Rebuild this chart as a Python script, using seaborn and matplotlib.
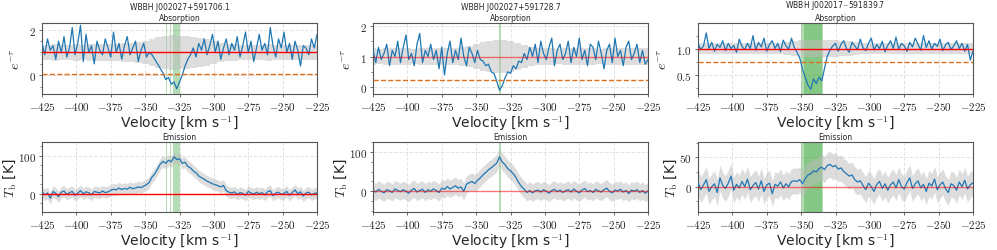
import numpy as np
import seaborn as sns
import matplotlib.pyplot as plt
from matplotlib.ticker import FuncFormatter, MultipleLocator

sns.set_style("whitegrid", {"grid.linestyle": "--", "grid.color": "#e3e3e3",
                            "axes.edgecolor": "#555555"})
plt.rcParams['font.family'] = ['DejaVu Sans']
plt.rcParams['mathtext.fontset'] = 'cm'

# channel grid (km/s) and coarse grid for the noise envelopes
vel = np.arange(-425, -224, 2)
vel_band = np.arange(-425, -224, 5)

sources = ["WBBH J002027+591706.1", "WBBH J002027+591728.7", "WBBH J002017$-$591839.7"]

# absorption spectra e^-tau
abs1 = [1.4, 0.9, 1.6, 1.1, 1.3, 0.7, 1.5, 1.0, 1.7, 0.8,
        1.2, 2.1, 0.9, 1.4, 2.2, 0.6, 1.8, 1.0, 1.3, 0.5,
        1.5, 1.1, 0.9, 1.6, 1.2, 0.8, 1.9, 1.0, 1.4, 0.7,
        1.3, 1.7, 0.9, 1.2, 1.5, 0.6, 1.1, 1.4, 0.8, 1.0,
        0.9, 0.7, 0.5, 0.3, 0.1, -0.2, -0.1, -0.4, -0.3, -0.6,
        -0.3, 0.0, 0.4, 0.7, 0.9, 1.2, 0.8, 1.4, 1.1, 1.6,
        0.9, 1.3, 1.8, 1.0, 1.5, 0.7, 1.2, 1.6, 0.9, 1.4,
        1.1, 1.7, 0.8, 1.3, 1.9, 1.0, 1.5, 0.6, 1.2, 1.8,
        1.1, 1.4, 0.9, 2.1, 1.3, 0.8, 1.6, 1.2, 1.9, 1.0,
        1.4, 0.7, 1.5, 1.1, 0.4, 1.3, 1.2, 0.9, 1.6, 1.2,
        1.8]
abs2 = [1.2, 0.8, 1.3, 0.9, 1.1, 1.4, 0.7, 1.2, 1.0, 1.5,
        0.8, 1.3, 1.7, 0.9, 1.1, 0.7, 1.4, 1.75, 0.8, 1.2,
        1.0, 1.4, 0.9, 1.2, 0.6, 1.3, 0.4, 1.1, 1.5, 0.8,
        1.2, 0.9, 1.6, 1.0, 0.7, 1.3, 1.1, 0.8, 1.2, 0.9,
        0.85, 0.7, 0.75, 0.5, 0.45, 0.2, -0.1, 0.05, 0.3, 0.5,
        0.45, 0.7, 0.6, 0.85, 0.8, 1.1, 0.9, 1.3, 1.0, 1.4,
        0.8, 1.5, 1.1, 0.9, 1.3, 1.6, 0.7, 1.2, 1.4, 0.9,
        1.1, 1.5, 0.8, 1.3, 1.0, 1.6, 0.9, 1.2, 0.7, 1.4,
        1.3, 0.9, 1.5, 1.1, 0.6, 1.2, 1.4, 0.8, 1.6, 1.0,
        1.2, 0.7, 1.3, 1.5, 0.9, 1.1, 1.4, 0.8, 1.2, 0.75,
        0.9]
abs3 = [1.1, 0.98, 1.05, 1.3, 1.0, 1.12, 0.95, 1.08, 1.02, 1.15,
        0.96, 1.1, 1.0, 1.06, 0.93, 1.18, 1.04, 0.98, 1.1, 1.0,
        1.25, 0.97, 1.12, 1.03, 1.2, 0.95, 1.08, 1.15, 1.0, 1.1,
        0.94, 1.16, 1.05, 0.99, 1.2, 1.02, 0.93, 0.82, 0.6, 0.45,
        0.3, 0.22, 0.42, 0.33, 0.45, 0.38, 0.62, 0.85, 0.97, 1.05,
        1.1, 0.95, 1.08, 1.15, 1.0, 0.93, 1.12, 1.05, 0.98, 1.18,
        1.02, 0.96, 1.1, 1.2, 0.97, 1.08, 1.0, 1.14, 0.94, 1.06,
        1.15, 1.0, 1.22, 0.98, 1.1, 1.05, 0.95, 1.12, 1.03, 1.2,
        1.08, 0.97, 1.25, 1.02, 1.15, 0.99, 1.1, 1.04, 1.18, 0.96,
        1.07, 1.12, 0.98, 1.05, 1.15, 1.0, 1.1, 0.95, 1.08, 0.78,
        0.95]

# emission spectra T_b [K]
em1 = [5, -3, 2, -12, 6, 1, -8, 4, 7, -2,
       3, 6, -4, 2, 8, 0, 5, 3, -3, 6,
       4, 2, 7, 3, 5, 9, 12, 10, 15, 11,
       14, 12, 17, 13, 15, 18, 16, 20, 24, 30,
       44, 52, 65, 78, 85, 80, 88, 84, 97, 90,
       92, 80, 83, 72, 68, 60, 55, 47, 42, 38,
       33, 30, 26, 24, 21, 18, 22, 8, 4, 2,
       5, -2, 3, 1, -4, 6, 2, -1, 4, 0,
       3, -3, 5, 8, -5, 2, 4, -2, 1, 6,
       -4, 3, 10, 0, 5, -6, 2, 4, -3, 1,
       2]
em2 = [3, -2, 5, 0, -4, 4, 1, -3, 6, 2,
       -1, 4, 0, -5, 3, 7, -2, 2, 5, -3,
       4, 0, 6, 2, -3, 8, 5, 12, 6, 10,
       14, 8, 11, 0, 18, 22, 25, 20, 28, 34,
       42, 48, 55, 60, 66, 72, 88, 75, 68, 58,
       52, 45, 35, 22, 12, 5, -3, 2, -4, 1,
       3, -2, 4, 0, -5, 2, 5, -1, 3, -3,
       1, 4, -2, 6, 0, -4, 3, 7, -1, 2,
       -3, 5, 1, -2, 4, 8, 0, -4, 3, 1,
       5, -2, 2, -6, 3, 0, 4, -3, 2, -5,
       1]
em3 = [8, -5, 3, 12, -8, 0, 5, -10, 15, 2,
       -3, 6, 18, -6, 4, -2, 9, 0, 13, -5,
       2, 7, -4, 10, -8, 3, 6, -12, 4, 1,
       8, -2, 5, 0, 9, 10, 9, 12, 5, 14,
       20, 22, 27, 25, 31, 33, 29, 36, 38, 34,
       36, 30, 32, 26, 22, 18, 20, 12, 8, 10,
       2, -5, 6, 0, -8, 4, 9, -3, 5, -6,
       3, 8, -2, 12, 0, -4, 7, 15, -3, 5,
       10, -2, 4, -8, 6, 1, 13, -5, 3, 8,
       -3, -10, 5, 2, -6, 8, 0, 11, -4, 3,
       7]

# half-widths of the grey envelopes
abs_hw1 = [0.35, 0.34, 0.36, 0.35, 0.35, 0.36, 0.35, 0.37, 0.36, 0.38,
           0.37, 0.39, 0.40, 0.42, 0.45, 0.50, 0.60, 0.68, 0.72, 0.75,
           0.74, 0.72, 0.70, 0.66, 0.60, 0.50, 0.42, 0.38, 0.36, 0.35,
           0.35, 0.34, 0.35, 0.36, 0.35, 0.35, 0.34, 0.35, 0.35, 0.34,
           0.35]
abs_hw2 = [0.27, 0.26, 0.27, 0.27, 0.28, 0.27, 0.26, 0.27, 0.28, 0.27,
           0.27, 0.28, 0.29, 0.30, 0.35, 0.40, 0.47, 0.52, 0.55, 0.55,
           0.50, 0.44, 0.37, 0.31, 0.28, 0.27, 0.27, 0.26, 0.27, 0.27,
           0.28, 0.27, 0.27, 0.26, 0.27, 0.27, 0.28, 0.27, 0.27, 0.27,
           0.27]
abs_hw3 = [0.10, 0.10, 0.11, 0.10, 0.10, 0.11, 0.10, 0.10, 0.10, 0.11,
           0.10, 0.10, 0.11, 0.12, 0.15, 0.16, 0.17, 0.17, 0.17, 0.16,
           0.16, 0.15, 0.14, 0.12, 0.10, 0.10, 0.11, 0.10, 0.10, 0.10,
           0.11, 0.10, 0.10, 0.10, 0.11, 0.10, 0.10, 0.10, 0.11, 0.10,
           0.10]
em_sigma = [15, 22, 22]

abs_spec = [abs1, abs2, abs3]
em_spec = [em1, em2, em3]
abs_hw = [abs_hw1, abs_hw2, abs_hw3]
floor_lvl = [0.05, 0.23, 0.75]
green_spans = [[(-334.8, -334.2), (-332.0, -331.0), (-330.0, -325.0)],
               [(-333.2, -332.2)],
               [(-350.0, -334.0), (-348.0, -335.0)]]
abs_ylim = [(-0.83, 2.3), (-0.22, 2.09), (0.13, 1.49)]
abs_yticks = [[0, 2], [0, 1, 2], [0.5, 1.0]]
abs_ydec = [0, 0, 1]
abs_minor = [0.5, 0.5, 0.25]
em_ylim = [(-48, 136), (-53, 126), (-43, 76)]
em_yticks = [[0, 100], [0, 100], [0, 50]]
red_alpha_top = [1.0, 0.5, 1.0]
red_alpha_bot = [1.0, 0.5, 0.5]

W, H = 997, 251
fig = plt.figure(figsize=(W / 100, H / 100), dpi=100)
lefts = [42, 373, 698]
aw = 275

cm_fmt = FuncFormatter(lambda v, p: f"${v:g}$")


def style(ax, ydec=0):
    ax.set_xlim(-425, -225)
    ax.set_xticks(np.arange(-425, -224, 25))
    ax.xaxis.set_major_formatter(cm_fmt)
    ax.yaxis.set_major_formatter(FuncFormatter(lambda v, p: f"${v:.{ydec}f}$"))
    ax.tick_params(labelsize=8, length=2.5, width=0.6, color="#555555", pad=2, left=True, bottom=True)
    ax.tick_params(which="minor", length=1.5, width=0.5, color="#555555", left=True)
    ax.grid(True, lw=0.7)
    for s in ax.spines.values():
        s.set_linewidth(0.8)


for i in range(3):
    # absorption row
    ax = fig.add_axes([lefts[i] / W, (H - 95) / H, aw / W, 71 / H])
    for a, b in green_spans[i]:
        ax.axvspan(a, b, color="tab:green", alpha=0.35, lw=0, zorder=1)
    hw = np.array(abs_hw[i])
    ax.fill_between(vel_band, 1 - hw, 1 + hw, step="mid", color="#bdbdbd", alpha=0.5, lw=0, zorder=2)
    sns.lineplot(x=vel, y=abs_spec[i], ax=ax, color="#1f77b4", lw=0.9, zorder=3)
    ax.axhline(1, color="red", lw=1.0, alpha=red_alpha_top[i], zorder=4)
    ax.axhline(floor_lvl[i], color="#e0701a", lw=1.0, ls="--", zorder=4)
    ax.set_ylim(*abs_ylim[i])
    ax.set_yticks(abs_yticks[i])
    ax.yaxis.set_minor_locator(MultipleLocator(abs_minor[i]))
    style(ax, abs_ydec[i])
    ax.set_title(sources[i] + "\nAbsorption", fontsize=5.5, pad=2, linespacing=1.3)
    ax.set_xlabel("Velocity [km s$^{-1}$]", fontsize=10, labelpad=1)
    ax.set_ylabel(r"$e^{-\tau}$", fontsize=10, labelpad=4)

    # emission row
    ax = fig.add_axes([lefts[i] / W, (H - 213) / H, aw / W, 70 / H])
    for a, b in green_spans[i]:
        ax.axvspan(a, b, color="tab:green", alpha=0.35, lw=0, zorder=1)
    tb = np.array(em_spec[i], dtype=float)
    ax.fill_between(vel, tb - em_sigma[i], tb + em_sigma[i], color="#bdbdbd", alpha=0.5, lw=0, zorder=2)
    sns.lineplot(x=vel, y=tb, ax=ax, color="#1f77b4", lw=0.9, zorder=3)
    ax.axhline(0, color="red", lw=1.0, alpha=red_alpha_bot[i], zorder=4)
    ax.set_ylim(*em_ylim[i])
    ax.set_yticks(em_yticks[i])
    ax.yaxis.set_minor_locator(MultipleLocator(25))
    style(ax)
    ax.set_title("Emission", fontsize=5.5, pad=2)
    ax.set_xlabel("Velocity [km s$^{-1}$]", fontsize=10, labelpad=1)
    ax.set_ylabel(r"$T_{\rm b}$ [K]", fontsize=10, labelpad=0)

fig.savefig("out.png", dpi=100)
